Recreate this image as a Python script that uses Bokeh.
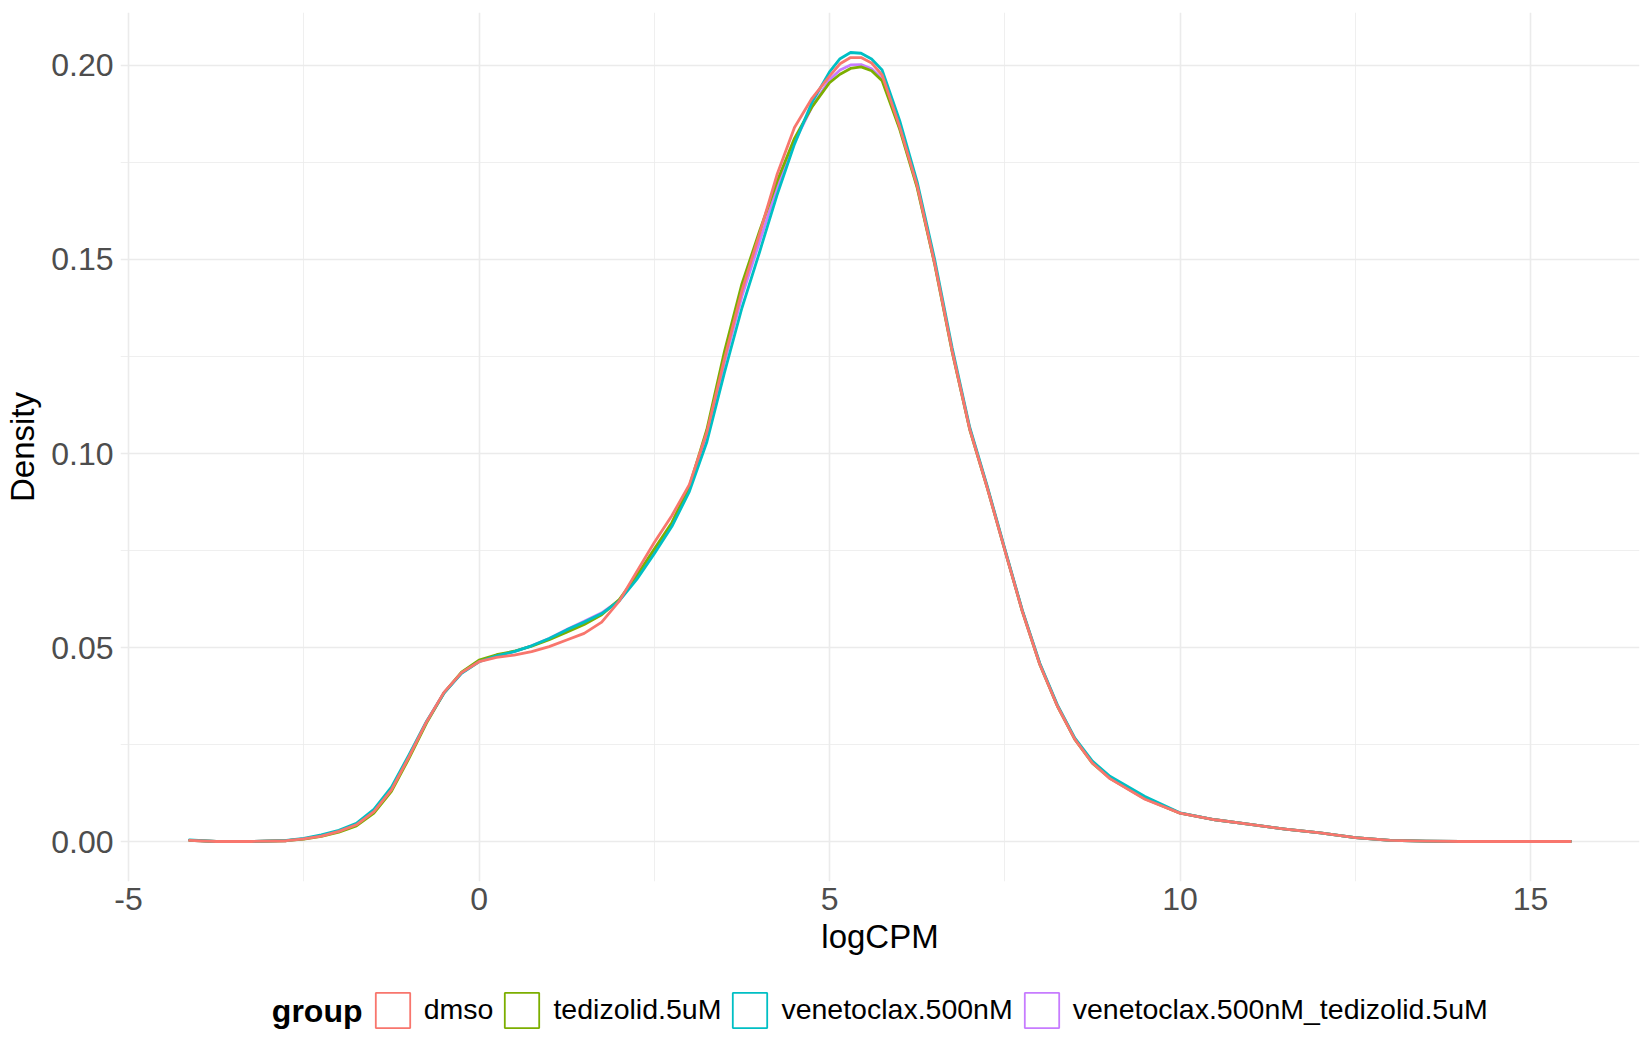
from bokeh.plotting import figure
from bokeh.layouts import column
from bokeh.models import (Range1d, FixedTicker, PrintfTickFormatter, Legend,
                          LegendItem, ColumnDataSource)
from bokeh.core.properties import value
from bokeh.embed import file_html
from bokeh.resources import INLINE

# ---------------- data ----------------
groups = ["dmso", "tedizolid.5uM", "venetoclax.500nM",
          "venetoclax.500nM_tedizolid.5uM"]
colors = ["#F8766D", "#7CAE00", "#00BFC4", "#C77CFF"]
legend_title = "group"

logcpm = [-4.13, -3.75, -3.25, -2.75, -2.5, -2.25, -2.0, -1.75, -1.5, -1.25,
          -1.0, -0.75, -0.5, -0.25, 0.0, 0.25, 0.5, 0.75, 1.0, 1.25,
          1.5, 1.75, 2.0, 2.25, 2.5, 2.75, 3.0, 3.25, 3.5, 3.75,
          4.0, 4.25, 4.5, 4.75, 5.0, 5.15, 5.3, 5.45, 5.6, 5.75,
          6.0, 6.25, 6.5, 6.75, 7.0, 7.25, 7.5, 7.75, 8.0, 8.25,
          8.5, 8.75, 9.0, 9.5, 10.0, 10.5, 11.0, 11.5, 12.0, 12.5,
          13.0, 13.5, 14.0, 15.0, 15.57]

dens_dmso = [0.0004, 0.0001, 0.0001, 0.0003, 0.0008, 0.0015, 0.0027, 0.0044, 0.0078, 0.0134,
             0.0219, 0.0309, 0.0385, 0.0436, 0.0464, 0.0475, 0.0481, 0.0490, 0.0503, 0.0520,
             0.0537, 0.0566, 0.0620, 0.0696, 0.0771, 0.0840, 0.0920, 0.1055, 0.1243, 0.1419,
             0.1565, 0.1718, 0.1840, 0.1915, 0.1972, 0.2004, 0.2020, 0.2020, 0.2006, 0.1975,
             0.1842, 0.1690, 0.1490, 0.1264, 0.1063, 0.0912, 0.0752, 0.0594, 0.0457, 0.0350,
             0.0264, 0.0203, 0.0163, 0.0110, 0.0074, 0.0057, 0.0045, 0.0033, 0.0023, 0.0011,
             0.0004, 0.0002, 0.0001, 0.0001, 0.0001]

dens_tedizolid = [0.0004, 0.0001, 0.0001, 0.0003, 0.0007, 0.0014, 0.0025, 0.0041, 0.0074, 0.0130,
                  0.0215, 0.0306, 0.0384, 0.0437, 0.0468, 0.0482, 0.0491, 0.0504, 0.0521, 0.0540,
                  0.0560, 0.0585, 0.0624, 0.0686, 0.0754, 0.0822, 0.0915, 0.1062, 0.1262, 0.1437,
                  0.1572, 0.1700, 0.1812, 0.1893, 0.1955, 0.1977, 0.1992, 0.1996, 0.1986, 0.1960,
                  0.1836, 0.1685, 0.1488, 0.1262, 0.1062, 0.0912, 0.0752, 0.0594, 0.0457, 0.0350,
                  0.0264, 0.0203, 0.0164, 0.0111, 0.0074, 0.0057, 0.0045, 0.0033, 0.0023, 0.0011,
                  0.0004, 0.0002, 0.0001, 0.0001, 0.0001]

dens_venetoclax = [0.0005, 0.0001, 0.0001, 0.0004, 0.0009, 0.0018, 0.0030, 0.0048, 0.0084, 0.0141,
                   0.0224, 0.0310, 0.0383, 0.0434, 0.0464, 0.0479, 0.0490, 0.0505, 0.0524, 0.0546,
                   0.0566, 0.0588, 0.0621, 0.0676, 0.0742, 0.0812, 0.0902, 0.1030, 0.1208, 0.1375,
                   0.1518, 0.1665, 0.1797, 0.1905, 0.1983, 0.2017, 0.2033, 0.2031, 0.2016, 0.1988,
                   0.1858, 0.1700, 0.1500, 0.1272, 0.1068, 0.0916, 0.0755, 0.0597, 0.0460, 0.0353,
                   0.0267, 0.0208, 0.0169, 0.0117, 0.0075, 0.0057, 0.0045, 0.0033, 0.0023, 0.0011,
                   0.0004, 0.0002, 0.0001, 0.0001, 0.0001]

dens_combo = [0.0004, 0.0001, 0.0001, 0.0003, 0.0008, 0.0016, 0.0028, 0.0045, 0.0080, 0.0137,
              0.0221, 0.0309, 0.0384, 0.0435, 0.0465, 0.0480, 0.0490, 0.0505, 0.0524, 0.0547,
              0.0568, 0.0590, 0.0622, 0.0680, 0.0748, 0.0816, 0.0908, 0.1045, 0.1235, 0.1405,
              0.1545, 0.1683, 0.1803, 0.1893, 0.1963, 0.1988, 0.2001, 0.2002, 0.1991, 0.1966,
              0.1840, 0.1688, 0.1490, 0.1264, 0.1064, 0.0913, 0.0753, 0.0595, 0.0458, 0.0351,
              0.0265, 0.0205, 0.0166, 0.0113, 0.0074, 0.0057, 0.0045, 0.0033, 0.0023, 0.0011,
              0.0004, 0.0002, 0.0001, 0.0001, 0.0001]

series = [dens_dmso, dens_tedizolid, dens_venetoclax, dens_combo]

x_ticks = [-5, 0, 5, 10, 15]
x_minor = [-2.5, 2.5, 7.5, 12.5]
y_ticks = [0.0, 0.05, 0.10, 0.15, 0.20]
y_minor = [0.025, 0.075, 0.125, 0.175]

FONT = "Liberation Sans"
GRID = "#EBEBEB"
W = 1650
H_MAIN = 975
H_LEG = 75
BL, BR = 120, 11          # left / right borders shared by both strips

# ---------------- main figure ----------------
p = figure(width=W, height=H_MAIN, output_backend="svg", toolbar_location=None,
           x_range=Range1d(-5.115, 16.555), y_range=Range1d(-0.0102, 0.2136),
           min_border_left=BL, min_border_right=BR, min_border_top=12,
           min_border_bottom=94, x_axis_label="logCPM", y_axis_label="Density")
p.outline_line_color = None
p.background_fill_color = "white"
p.border_fill_color = "white"

p.xaxis.ticker = FixedTicker(ticks=x_ticks, minor_ticks=x_minor)
p.yaxis.ticker = FixedTicker(ticks=y_ticks, minor_ticks=y_minor)
p.xaxis.formatter = PrintfTickFormatter(format="%d")
p.yaxis.formatter = PrintfTickFormatter(format="%.2f")

for ax in p.axis:
    ax.axis_line_color = None
    ax.major_tick_line_color = None
    ax.minor_tick_line_color = None
    ax.major_tick_out = 0
    ax.major_tick_in = 0
    ax.minor_tick_out = 0
    ax.minor_tick_in = 0
    ax.major_label_text_font = FONT
    ax.major_label_text_font_size = "32px"
    ax.major_label_text_color = "#4D4D4D"
    ax.axis_label_text_font = FONT
    ax.axis_label_text_font_size = "33px"
    ax.axis_label_text_font_style = "normal"
    ax.axis_label_text_color = "black"

p.xaxis.major_label_standoff = 6
p.xaxis.axis_label_standoff = 5
p.yaxis.major_label_standoff = 7
p.yaxis.axis_label_standoff = 7

for g in (p.xgrid, p.ygrid):
    g.grid_line_color = GRID
    g.grid_line_width = 1.6
    g.minor_grid_line_color = GRID
    g.minor_grid_line_width = 0.8

# draw order: combo, tedizolid, venetoclax, dmso (dmso on top)
for idx in [3, 1, 2, 0]:
    src = ColumnDataSource(data=dict(x=logcpm, y=series[idx]))
    p.line("x", "y", source=src, line_color=colors[idx], line_width=2.8,
           line_join="round", line_cap="round")

# ---------------- legend strip (data units = page pixels) ----------------
leg = figure(width=W, height=H_LEG, output_backend="svg", toolbar_location=None,
             x_range=Range1d(BL, W - BR), y_range=Range1d(0, H_LEG),
             x_axis_type=None, y_axis_type=None,
             min_border_left=BL, min_border_right=BR, min_border_top=0,
             min_border_bottom=0)
leg.outline_line_color = None
leg.background_fill_color = "white"
leg.border_fill_color = "white"
leg.xgrid.visible = False
leg.ygrid.visible = False

items = []
for g, c in zip(groups, colors):
    # proxy renderer placed outside the visible strip; only its legend key shows
    ksrc = ColumnDataSource(data=dict(left=[BL], right=[BL + 1], top=[-10], bottom=[-11]))
    r = leg.quad(left="left", right="right", top="top", bottom="bottom",
                 source=ksrc, fill_color="white", line_color=c, line_width=1.8)
    items.append(LegendItem(label=g, renderers=[r]))

legend = Legend(items=items, orientation="horizontal", location=(250.75, 18.5),
                glyph_width=43, glyph_height=44, label_standoff=10, spacing=7,
                padding=0, margin=0, border_line_color=None,
                background_fill_alpha=0, label_text_font=FONT,
                label_text_font_size="28.5px", label_text_color="black")
leg.add_layout(legend)

title_src = ColumnDataSource(data=dict(x=[362], y=[39.5], text=[legend_title]))
leg.text(x="x", y="y", text="text", source=title_src,
         text_font=value(FONT), text_font_style="bold",
         text_font_size=value("32px"), text_align="right",
         text_baseline="middle", text_color="black")

open("out.html", "w").write(file_html(column(p, leg, spacing=0), INLINE))
